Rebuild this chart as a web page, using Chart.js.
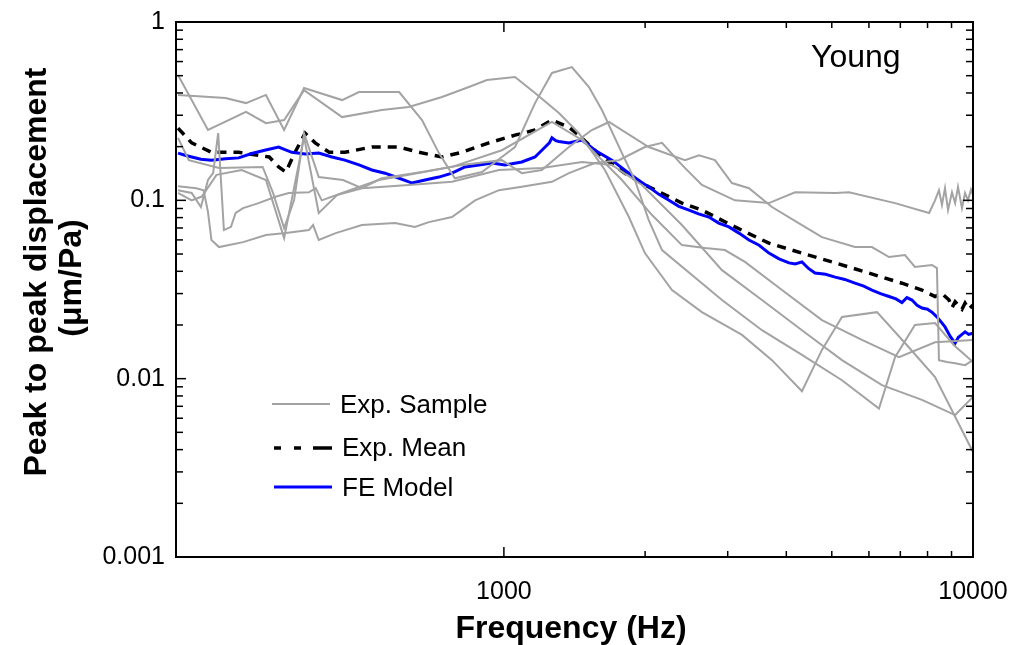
<!DOCTYPE html>
<html>
<head>
<meta charset="utf-8">
<script src="https://cdn.jsdelivr.net/npm/chart.js@4.4.1/dist/chart.umd.min.js"></script>
<style>
html,body{margin:0;padding:0;background:#fff;}
canvas{display:block;}
</style>
</head>
<body>
<canvas id="c" width="1016" height="645"></canvas>
<script>
// ---- data: [frequency (Hz), displacement (um/Pa)] ----
const sample1 = [[202,0.504],[234,0.248],[282,0.313],[311,0.271],[340,0.282],[375,0.415],[452,0.293],[549,0.321],[627,0.334],[738,0.380],[842,0.432],[920,0.473],[1056,0.491],[1165,0.400],[1310,0.309],[1445,0.238],[1642,0.148],[1847,0.0806],[1998,0.0506],[2282,0.0314],[2643,0.0236],[3218,0.0176],[3728,0.0127],[4319,0.0085],[4764,0.0145],[5256,0.0222],[6243,0.0236],[7233,0.0154],[8300,0.0102],[10000,0.00388]];
const sample2 = [[202,0.390],[255,0.375],[282,0.351],[311,0.390],[340,0.248],[375,0.426],[452,0.365],[491,0.405],[598,0.405],[669,0.282],[727,0.184],[786,0.133],[898,0.144],[990,0.175],[1056,0.199],[1165,0.351],[1266,0.518],[1396,0.559],[1518,0.432],[1618,0.321],[1785,0.184],[1902,0.130],[2036,0.0775],[2173,0.0526],[2517,0.0381],[2917,0.0276],[3549,0.0187],[4319,0.0136],[5256,0.0098],[6304,0.0068],[6820,0.0132],[7520,0.0200],[8300,0.0205],[9110,0.0154],[10000,0.0124]];
const sample3 = [[202,0.224],[213,0.168],[247,0.152],[306,0.154],[322,0.110],[340,0.0699],[357,0.100],[375,0.238],[403,0.135],[454,0.130],[498,0.117],[549,0.133],[669,0.144],[814,0.158],[990,0.168],[1092,0.142],[1205,0.148],[1376,0.199],[1540,0.248],[1675,0.275],[2036,0.199],[2432,0.168],[2605,0.179],[2818,0.168],[3063,0.125],[3330,0.117],[3728,0.0917],[4319,0.0727],[4764,0.0622],[5602,0.0547],[6089,0.0547],[6622,0.0481],[7161,0.0493],[7520,0.0423],[8175,0.0434],[8378,0.0417],[8461,0.0127],[8800,0.0124],[9160,0.0122],[9617,0.0119],[10000,0.0127]];
const sample4 = [[202,0.114],[216,0.110],[226,0.0917],[234,0.130],[240,0.142],[246,0.238],[253,0.0681],[262,0.0710],[268,0.0849],[278,0.0905],[300,0.0965],[327,0.105],[348,0.110],[384,0.111],[397,0.117],[409,0.100],[452,0.110],[541,0.130],[627,0.139],[775,0.154],[990,0.191],[1266,0.275],[1467,0.218],[1785,0.130],[2069,0.0827],[2396,0.0561],[2684,0.0540],[2959,0.0526],[3265,0.0452],[3916,0.0314],[4764,0.0213],[5798,0.0165],[6955,0.0132],[8300,0.0160],[10000,0.0165]];
const sample5 = [[202,0.110],[216,0.100],[227,0.105],[244,0.139],[276,0.148],[311,0.130],[340,0.0614],[375,0.226],[403,0.0849],[441,0.107],[498,0.117],[627,0.122],[775,0.127],[976,0.148],[1205,0.152],[1467,0.164],[1699,0.158],[1969,0.122],[2396,0.0727],[2917,0.0406],[3549,0.0276],[4319,0.0187],[5256,0.0127],[6397,0.0092],[7785,0.0076],[9160,0.00625],[10000,0.0079]];
const sample6 = [[202,0.120],[221,0.117],[229,0.114],[234,0.0860],[238,0.0599],[247,0.0547],[278,0.0583],[311,0.0639],[343,0.0655],[384,0.0681],[392,0.0727],[403,0.0599],[438,0.0655],[498,0.0727],[586,0.0746],[646,0.0710],[692,0.0755],[775,0.0806],[868,0.100],[976,0.114],[1092,0.119],[1266,0.127],[1376,0.142],[1563,0.162],[1759,0.168],[1998,0.199],[2173,0.210],[2396,0.158],[2643,0.122],[3108,0.100],[3673,0.0965],[4174,0.111],[5083,0.110],[5440,0.111],[6820,0.0965],[8060,0.0849],[8300,0.100],[8461,0.114],[8587,0.0941],[8716,0.117],[8847,0.0882],[9020,0.111],[9160,0.0965],[9290,0.119],[9473,0.0905],[9617,0.110],[9757,0.100],[9902,0.115],[10000,0.107]];
const expMean = [[202,0.254],[216,0.210],[238,0.186],[272,0.186],[316,0.175],[331,0.154],[343,0.144],[358,0.184],[377,0.238],[396,0.210],[424,0.186],[458,0.186],[523,0.199],[598,0.199],[659,0.186],[738,0.175],[814,0.186],[929,0.210],[1056,0.232],[1165,0.248],[1266,0.282],[1376,0.257],[1445,0.232],[1618,0.175],[1812,0.142],[2036,0.119],[2248,0.105],[2396,0.0965],[2643,0.0882],[3108,0.0710],[3673,0.0575],[4319,0.0506],[5083,0.0446],[5996,0.0391],[7056,0.0343],[7785,0.0314],[8300,0.0289],[8587,0.0300],[8890,0.0276],[9020,0.0250],[9160,0.0270],[9473,0.0245],[9617,0.0265],[9790,0.0245],[10000,0.0259]];
const feModel = [[202,0.184],[209,0.179],[216,0.175],[226,0.170],[238,0.168],[255,0.171],[272,0.173],[290,0.183],[309,0.191],[331,0.199],[353,0.186],[377,0.182],[403,0.184],[430,0.175],[458,0.168],[491,0.158],[523,0.148],[558,0.142],[598,0.133],[637,0.125],[679,0.130],[727,0.135],[775,0.142],[826,0.154],[885,0.158],[943,0.162],[1005,0.158],[1092,0.164],[1165,0.175],[1205,0.191],[1250,0.210],[1266,0.224],[1290,0.216],[1310,0.214],[1376,0.210],[1467,0.218],[1563,0.191],[1699,0.168],[1847,0.142],[1950,0.128],[2036,0.119],[2140,0.108],[2248,0.100],[2360,0.0925],[2481,0.0882],[2600,0.0840],[2735,0.0806],[2870,0.0745],[3018,0.0710],[3170,0.0655],[3330,0.0599],[3500,0.0560],[3673,0.0506],[3860,0.0470],[4052,0.0446],[4180,0.0440],[4319,0.0452],[4460,0.0415],[4604,0.0391],[4850,0.0385],[5083,0.0371],[5330,0.0360],[5602,0.0343],[5850,0.0330],[6089,0.0314],[6350,0.0300],[6622,0.0289],[6850,0.0280],[7056,0.0267],[7230,0.0285],[7411,0.0276],[7600,0.0258],[7785,0.0249],[8000,0.0245],[8175,0.0236],[8378,0.0222],[8550,0.0208],[8716,0.0195],[8950,0.0172],[9160,0.0158],[9300,0.0170],[9473,0.0177],[9620,0.0183],[9790,0.0177],[10000,0.0180]];

const xTickLabels = [1000, 10000];
const xMinorTicks = [2000,3000,4000,5000,6000,7000,8000,9000];
const yTickLabels = [0.001, 0.01, 0.1, 1];

const legendItems = ['Exp. Sample', 'Exp. Mean', 'FE Model'];
const cornerLabel = 'Young';
const xTitle = 'Frequency (Hz)';
const yTitle = ['Peak to peak displacement', '(\u03bcm/Pa)'];

// ---- chart ----
const FONT = '"Liberation Sans", Arial, sans-serif';
const GRAY = 'rgb(163,163,163)';
const toXY = arr => arr.map(p => ({x: p[0], y: p[1]}));
const samples = [sample1, sample2, sample3, sample4, sample5, sample6];

const datasets = samples.map(s => ({
  data: toXY(s), borderColor: GRAY, borderWidth: 2, pointRadius: 0, tension: 0, fill: false
}));
datasets.push({data: toXY(feModel), borderColor: '#0000ff', borderWidth: 3, pointRadius: 0, tension: 0, fill: false});
datasets.push({data: toXY(expMean), borderColor: '#000', borderWidth: 3.5, borderDash: [9, 7], pointRadius: 0, tension: 0, fill: false});

const decor = {
  id: 'decor',
  afterDraw(chart) {
    const {ctx, chartArea: {left, right, top, bottom}, scales: {x, y}} = chart;
    ctx.save();
    ctx.strokeStyle = '#000';
    const seg = (x1, y1, x2, y2) => { ctx.beginPath(); ctx.moveTo(x1, y1); ctx.lineTo(x2, y2); ctx.stroke(); };
    // ticks
    ctx.lineWidth = 1.5;
    xMinorTicks.forEach(v => { const p = x.getPixelForValue(v); seg(p, bottom, p, bottom - 6); seg(p, top, p, top + 6); });
    xTickLabels.forEach(v => { const p = x.getPixelForValue(v); seg(p, bottom, p, bottom - 10); seg(p, top, p, top + 10); });
    for (let d = 0.001; d < 0.9; d *= 10) {
      for (let m = 2; m <= 9; m++) {
        const p = y.getPixelForValue(d * m);
        seg(left, p, left + 7, p); seg(right, p, right - 7, p);
      }
    }
    yTickLabels.forEach(v => { const p = y.getPixelForValue(v); seg(left, p, left + 10, p); seg(right, p, right - 10, p); });
    // frame
    ctx.lineWidth = 2;
    ctx.strokeRect(left, top, right - left, bottom - top);
    // titles
    ctx.fillStyle = '#000';
    ctx.textAlign = 'center';
    ctx.textBaseline = 'middle';
    ctx.font = 'bold 32px ' + FONT;
    ctx.fillText(xTitle, 571, 629);
    ctx.save(); ctx.translate(37, 272); ctx.rotate(-Math.PI / 2); ctx.fillText(yTitle[0], 0, 0); ctx.restore();
    ctx.save(); ctx.translate(72, 278); ctx.rotate(-Math.PI / 2); ctx.fillText(yTitle[1], 0, 0); ctx.restore();
    // corner label
    ctx.textAlign = 'left';
    ctx.textBaseline = 'alphabetic';
    ctx.font = '32px ' + FONT;
    ctx.fillText(cornerLabel, 811, 67);
    // legend
    ctx.font = '26px ' + FONT;
    ctx.textBaseline = 'middle';
    ctx.lineCap = 'butt';
    ctx.strokeStyle = GRAY; ctx.lineWidth = 2; seg(272, 404, 330, 404);
    ctx.fillText(legendItems[0], 340, 406);
    ctx.strokeStyle = '#000'; ctx.lineWidth = 3.5;
    seg(274, 448, 281, 448); seg(294, 448, 301, 448); seg(313, 448, 332, 448);
    ctx.fillText(legendItems[1], 342, 449);
    ctx.strokeStyle = '#0000ff'; ctx.lineWidth = 3; seg(274, 487, 332, 487);
    ctx.fillText(legendItems[2], 342, 489);
    ctx.restore();
  }
};

new Chart(document.getElementById('c'), {
  type: 'line',
  data: {datasets},
  options: {
    responsive: false,
    animation: false,
    devicePixelRatio: 1,
    layout: {padding: {top: 22, right: 43, left: 0, bottom: 0}},
    plugins: {legend: {display: false}, tooltip: {enabled: false}},
    scales: {
      x: {
        type: 'logarithmic', min: 200, max: 10000, position: 'bottom',
        grid: {display: false, drawTicks: false}, border: {display: false},
        ticks: {color: '#000', font: {family: FONT, size: 25}, padding: 20, maxRotation: 0, autoSkip: false,
          callback: v => String(v)},
        afterBuildTicks: s => { s.ticks = xTickLabels.map(v => ({value: v})); },
        afterFit: s => { s.height = 88; s.paddingLeft = 0; s.paddingRight = 0; }
      },
      y: {
        type: 'logarithmic', min: 0.001, max: 1, position: 'left',
        grid: {display: false, drawTicks: false}, border: {display: false},
        ticks: {color: '#000', font: {family: FONT, size: 25}, padding: 11, autoSkip: false,
          callback: v => String(v)},
        afterBuildTicks: s => { s.ticks = yTickLabels.map(v => ({value: v})); },
        afterFit: s => { s.width = 176; s.paddingTop = 0; s.paddingBottom = 0; }
      }
    }
  },
  plugins: [decor]
});
</script>
</body>
</html>
